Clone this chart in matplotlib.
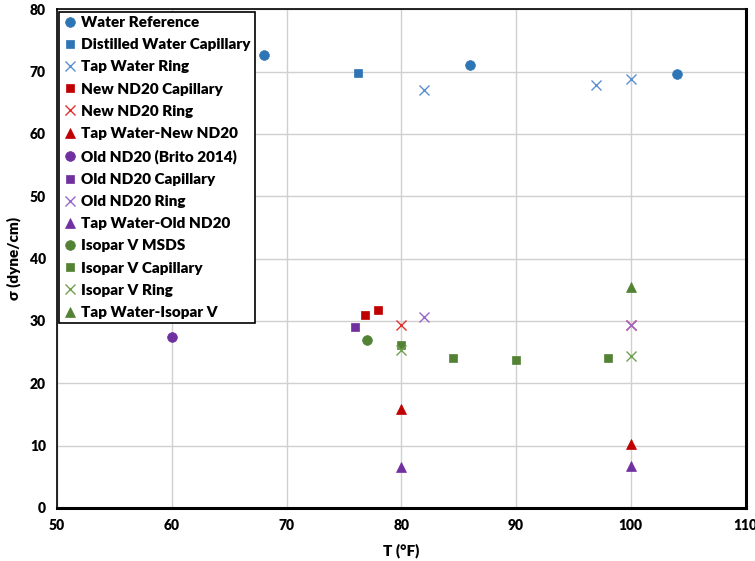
import matplotlib.pyplot as plt

plt.rcParams['font.family'] = ['Lato', 'DejaVu Sans']

# series data: (T in F, sigma in dyne/cm)
water_ref_t = [68, 86, 104]
water_ref_s = [72.7, 71.1, 69.6]
dist_cap_t = [76.2]
dist_cap_s = [69.8]
tap_ring_t = [82, 97, 100]
tap_ring_s = [67.0, 67.9, 68.8]
new_cap_t = [76.8, 78]
new_cap_s = [30.9, 31.7]
new_ring_t = [80, 100]
new_ring_s = [29.4, 29.3]
tap_new_t = [80, 100]
tap_new_s = [15.9, 10.2]
old_brito_t = [60]
old_brito_s = [27.4]
old_cap_t = [76]
old_cap_s = [29.1]
old_ring_t = [82, 100]
old_ring_s = [30.6, 29.3]
tap_old_t = [80, 100]
tap_old_s = [6.6, 6.7]
iso_msds_t = [77]
iso_msds_s = [26.9]
iso_cap_t = [80, 84.5, 90, 98]
iso_cap_s = [26.1, 24.1, 23.8, 24.1]
iso_ring_t = [80, 100]
iso_ring_s = [25.3, 24.4]
tap_iso_t = [100]
tap_iso_s = [35.4]

blue = '#2E75B6'
blue_l = '#5B8FD0'
red = '#C00000'
red_l = '#E03030'
purple = '#7030A0'
purple_l = '#9A66CC'
green = '#548235'
green_l = '#70A050'

series = [
    (water_ref_t, water_ref_s, 'o', blue, 'Water Reference'),
    (dist_cap_t, dist_cap_s, 's', blue, 'Distilled Water Capillary'),
    (tap_ring_t, tap_ring_s, 'x', blue_l, 'Tap Water Ring'),
    (new_cap_t, new_cap_s, 's', red, 'New ND20 Capillary'),
    (new_ring_t, new_ring_s, 'x', red_l, 'New ND20 Ring'),
    (tap_new_t, tap_new_s, '^', red, 'Tap Water-New ND20'),
    (old_brito_t, old_brito_s, 'o', purple, 'Old ND20 (Brito 2014)'),
    (old_cap_t, old_cap_s, 's', purple, 'Old ND20 Capillary'),
    (old_ring_t, old_ring_s, 'x', purple_l, 'Old ND20 Ring'),
    (tap_old_t, tap_old_s, '^', purple, 'Tap Water-Old ND20'),
    (iso_msds_t, iso_msds_s, 'o', green, 'Isopar V MSDS'),
    (iso_cap_t, iso_cap_s, 's', green, 'Isopar V Capillary'),
    (iso_ring_t, iso_ring_s, 'x', green_l, 'Isopar V Ring'),
    (tap_iso_t, tap_iso_s, '^', green, 'Tap Water-Isopar V'),
]

fig = plt.figure(figsize=(7.55, 5.61), dpi=100)
ax = fig.add_axes([0.0755, 0.0945, 0.912, 0.889])

for t, s, m, c, lab in series:
    ms = {'o': 7, 's': 6, 'x': 6.5, '^': 6.5}[m]
    ax.plot(t, s, linestyle='none', marker=m, color=c, markersize=ms,
            markeredgewidth=1.0 if m == 'x' else 0.5, label=lab, zorder=3)

ax.set_xlim(50, 110)
ax.set_ylim(0, 80)
ax.set_xticks(range(50, 111, 10))
ax.set_yticks(range(0, 81, 10))
ax.grid(True, color='#D0D0D0', linewidth=1)
ax.set_axisbelow(True)
ax.tick_params(length=0, labelsize=10, pad=8)
for lab in ax.get_xticklabels() + ax.get_yticklabels():
    lab.set_fontweight('heavy')
for sp in ax.spines.values():
    sp.set_color('black')
    sp.set_linewidth(1.2)
ax.spines['right'].set_linewidth(2.2)
ax.spines['bottom'].set_linewidth(2.2)

ax.set_xlabel('T (°F)', fontsize=11, fontweight='heavy', labelpad=8)
ax.set_ylabel('σ (dyne/cm)', fontsize=11, fontweight='heavy', labelpad=6)

leg = ax.legend(loc='upper left', prop={'weight': 'heavy', 'size': 11},
                frameon=True, fancybox=False, edgecolor='black', framealpha=1,
                borderaxespad=0.15, handlelength=0.8, handletextpad=0.3,
                labelspacing=0.6, borderpad=0.3)
leg.get_frame().set_linewidth(1.2)

plt.savefig('out.png', dpi=100)
